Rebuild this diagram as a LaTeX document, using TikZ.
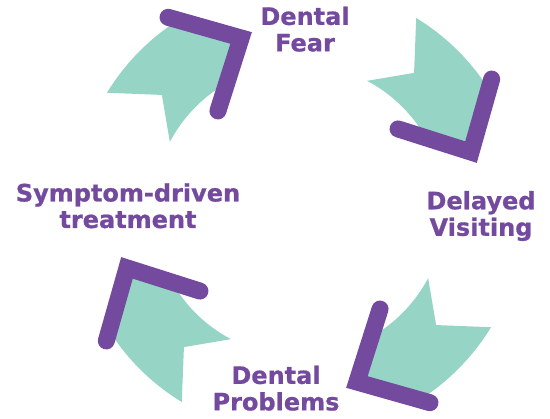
\documentclass[tikz,border=0pt]{standalone}
\usepackage{fontspec}
\setmainfont{DejaVu Sans}[BoldFeatures={FakeBold=0.8}]
\usepackage{tikz}
\usepackage{xcolor}
\definecolor{cyclepurple}{HTML}{744A9E}
\definecolor{cyclemint}{HTML}{96D4C5}

\begin{document}
\begin{tikzpicture}[x=1pt,y=1pt,
  mint/.style={fill=cyclemint},
  chevron/.style={draw=cyclepurple,line width=17pt,line cap=round,line join=miter},
  stage/.style={text=cyclepurple,font=\bfseries\fontsize{24}{26.5}\selectfont,align=center,inner sep=0pt}]
\useasboundingbox (-299,-209) rectangle (251,210);
\fill[mint] (148.6:225) arc[start angle=148.6,end angle=120,radius=225] -- (108.6:181.5) -- (122:146) arc[start angle=122,end angle=152.2,radius=146] -- (140:179) -- cycle;
\draw[chevron] (124.2:233) -- (108.6:181.5) -- (129.3:128);
\fill[mint] (58.6:225) arc[start angle=58.6,end angle=30,radius=225] -- (18.6:181.5) -- (32:146) arc[start angle=32,end angle=62.2,radius=146] -- (50:179) -- cycle;
\draw[chevron] (34.2:233) -- (18.6:181.5) -- (39.3:128);
\fill[mint] (-31.4:225) arc[start angle=-31.4,end angle=-60,radius=225] -- (-71.4:181.5) -- (-58:146) arc[start angle=-58,end angle=-27.8,radius=146] -- (-40:179) -- cycle;
\draw[chevron] (-55.8:233) -- (-71.4:181.5) -- (-50.7:128);
\fill[mint] (-121.4:225) arc[start angle=-121.4,end angle=-150,radius=225] -- (-161.4:181.5) -- (-148:146) arc[start angle=-148,end angle=-117.8,radius=146] -- (-130:179) -- cycle;
\draw[chevron] (-145.8:233) -- (-161.4:181.5) -- (-140.7:128);
\node[stage] (fear) at (6,180.8) {Dental\\Fear};
\node[stage] (delay) at (182,-6) {Delayed\\Visiting};
\node[stage] (problems) at (-23,-178.2) {Dental\\Problems};
\node[stage] (symptom) at (-171,4.2) {Symptom-driven\\treatment};
\end{tikzpicture}
\end{document}
